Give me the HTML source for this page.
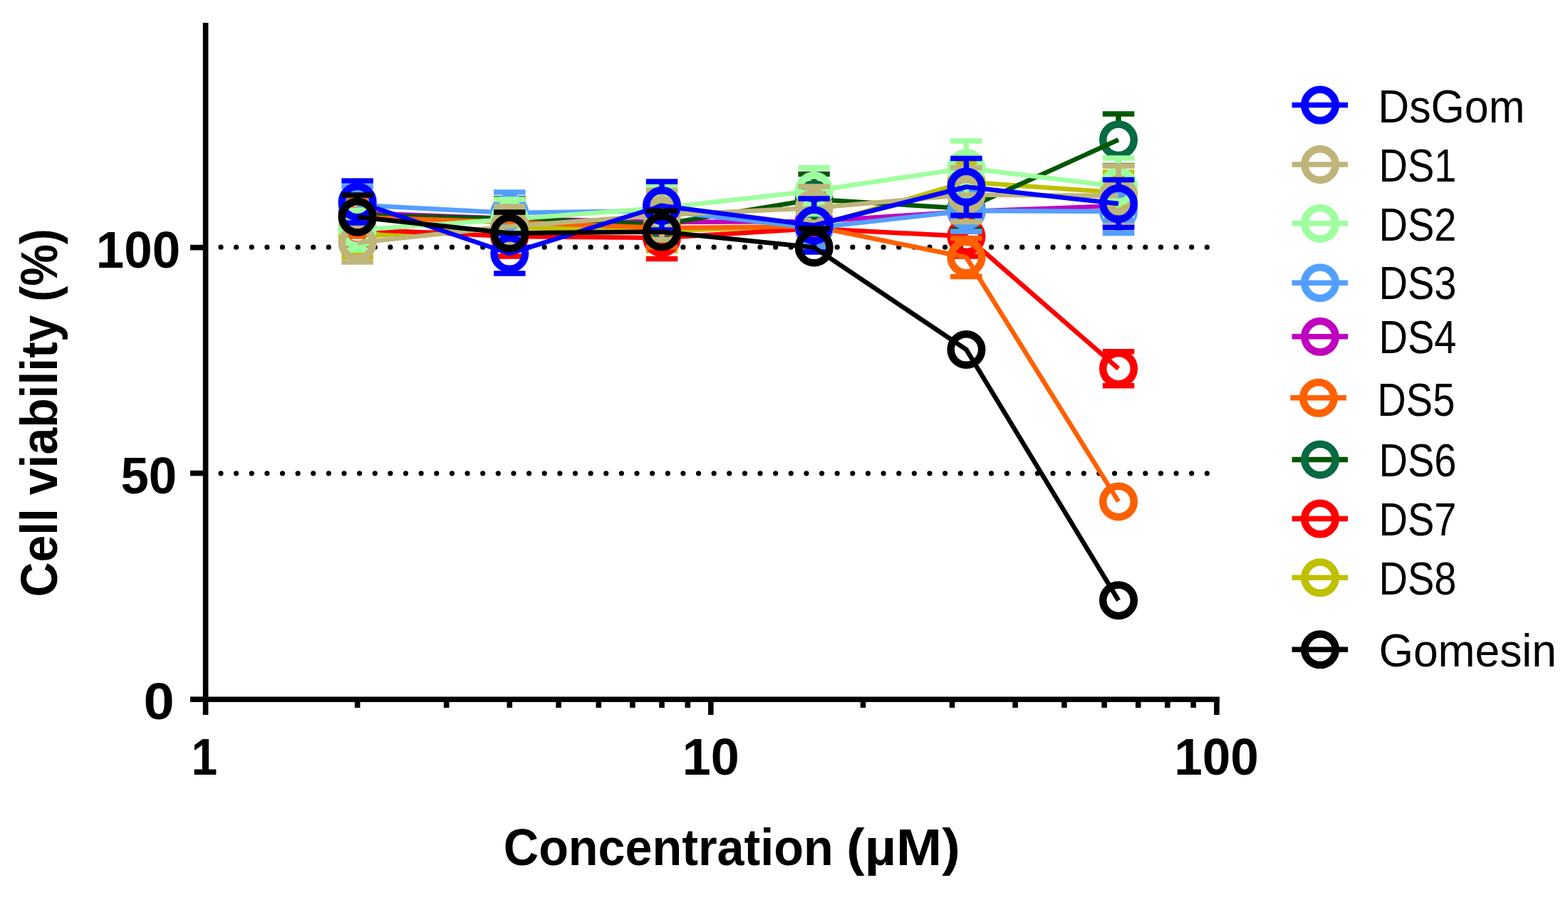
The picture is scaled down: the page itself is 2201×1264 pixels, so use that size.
<!DOCTYPE html>
<html><head><meta charset="utf-8"><title>Cell viability</title>
<style>html,body{margin:0;padding:0;background:#fff;}body{width:2201px;height:1264px;overflow:hidden;}svg{display:block;}.b{font-family:"Liberation Sans",sans-serif;font-weight:bold;}.r{font-family:"Liberation Sans",sans-serif;font-weight:normal;}</style></head><body>
<svg width="2201" height="1264" viewBox="0 0 2201 1264">
<rect x="0" y="0" width="2201" height="1264" fill="#fff"/>
<path d="M310.00 347.20h0M331.63 347.20h0M353.26 347.20h0M374.89 347.20h0M396.52 347.20h0M418.15 347.20h0M439.78 347.20h0M461.41 347.20h0M483.04 347.20h0M504.67 347.20h0M526.30 347.20h0M547.93 347.20h0M569.56 347.20h0M591.19 347.20h0M612.82 347.20h0M634.45 347.20h0M656.08 347.20h0M677.71 347.20h0M699.34 347.20h0M720.97 347.20h0M742.60 347.20h0M764.23 347.20h0M785.86 347.20h0M807.49 347.20h0M829.12 347.20h0M850.75 347.20h0M872.38 347.20h0M894.01 347.20h0M915.64 347.20h0M937.27 347.20h0M958.90 347.20h0M980.53 347.20h0M1002.16 347.20h0M1023.79 347.20h0M1045.42 347.20h0M1067.05 347.20h0M1088.68 347.20h0M1110.31 347.20h0M1131.94 347.20h0M1153.57 347.20h0M1175.20 347.20h0M1196.83 347.20h0M1218.46 347.20h0M1240.09 347.20h0M1261.72 347.20h0M1283.35 347.20h0M1304.98 347.20h0M1326.61 347.20h0M1348.24 347.20h0M1369.87 347.20h0M1391.50 347.20h0M1413.13 347.20h0M1434.76 347.20h0M1456.39 347.20h0M1478.02 347.20h0M1499.65 347.20h0M1521.28 347.20h0M1542.91 347.20h0M1564.54 347.20h0M1586.17 347.20h0M1607.80 347.20h0M1629.43 347.20h0M1651.06 347.20h0M1672.69 347.20h0M1694.32 347.20h0" stroke="#000" stroke-width="7.2" stroke-linecap="round" fill="none"/>
<path d="M310.00 664.80h0M331.63 664.80h0M353.26 664.80h0M374.89 664.80h0M396.52 664.80h0M418.15 664.80h0M439.78 664.80h0M461.41 664.80h0M483.04 664.80h0M504.67 664.80h0M526.30 664.80h0M547.93 664.80h0M569.56 664.80h0M591.19 664.80h0M612.82 664.80h0M634.45 664.80h0M656.08 664.80h0M677.71 664.80h0M699.34 664.80h0M720.97 664.80h0M742.60 664.80h0M764.23 664.80h0M785.86 664.80h0M807.49 664.80h0M829.12 664.80h0M850.75 664.80h0M872.38 664.80h0M894.01 664.80h0M915.64 664.80h0M937.27 664.80h0M958.90 664.80h0M980.53 664.80h0M1002.16 664.80h0M1023.79 664.80h0M1045.42 664.80h0M1067.05 664.80h0M1088.68 664.80h0M1110.31 664.80h0M1131.94 664.80h0M1153.57 664.80h0M1175.20 664.80h0M1196.83 664.80h0M1218.46 664.80h0M1240.09 664.80h0M1261.72 664.80h0M1283.35 664.80h0M1304.98 664.80h0M1326.61 664.80h0M1348.24 664.80h0M1369.87 664.80h0M1391.50 664.80h0M1413.13 664.80h0M1434.76 664.80h0M1456.39 664.80h0M1478.02 664.80h0M1499.65 664.80h0M1521.28 664.80h0M1542.91 664.80h0M1564.54 664.80h0M1586.17 664.80h0M1607.80 664.80h0M1629.43 664.80h0M1651.06 664.80h0M1672.69 664.80h0M1694.32 664.80h0" stroke="#000" stroke-width="7.2" stroke-linecap="round" fill="none"/>
<g stroke="#000" stroke-width="7.6" fill="none" stroke-linecap="butt">
<path d="M288.6 32V1004"/>
<path d="M284.8 982.2H1711.8"/>
<path d="M267 347.6H288"/>
<path d="M267 664.6H288"/>
<path d="M267 982.2H288"/>
<path d="M997.8 982V1004"/>
<path d="M1707.9 982V1004"/>
<path d="M501.7 982V994"/>
<path d="M626.7 982V994"/>
<path d="M715.3 982V994"/>
<path d="M784.1 982V994"/>
<path d="M840.3 982V994"/>
<path d="M887.9 982V994"/>
<path d="M929.0 982V994"/>
<path d="M965.3 982V994"/>
<path d="M1211.5 982V994"/>
<path d="M1336.5 982V994"/>
<path d="M1425.1 982V994"/>
<path d="M1493.9 982V994"/>
<path d="M1550.1 982V994"/>
<path d="M1597.7 982V994"/>
<path d="M1638.8 982V994"/>
<path d="M1675.1 982V994"/>
</g>
<g><path d="M479.4 273.0H523.9" stroke="#BF00BF" stroke-width="7.5" fill="none"/><path d="M479.4 325.0H523.9" stroke="#BF00BF" stroke-width="7.5" fill="none"/><path d="M715.3 281.0V279.0" stroke="#BF00BF" stroke-width="7.5" fill="none"/><path d="M693.1 279.0H737.6" stroke="#BF00BF" stroke-width="7.5" fill="none"/><path d="M715.3 333.0V335.0" stroke="#BF00BF" stroke-width="7.5" fill="none"/><path d="M693.1 335.0H737.6" stroke="#BF00BF" stroke-width="7.5" fill="none"/><path d="M929.0 286.0V284.0" stroke="#BF00BF" stroke-width="7.5" fill="none"/><path d="M906.8 284.0H951.3" stroke="#BF00BF" stroke-width="7.5" fill="none"/><path d="M929.0 338.0V340.0" stroke="#BF00BF" stroke-width="7.5" fill="none"/><path d="M906.8 340.0H951.3" stroke="#BF00BF" stroke-width="7.5" fill="none"/><path d="M1142.7 285.0V283.0" stroke="#BF00BF" stroke-width="7.5" fill="none"/><path d="M1120.4 283.0H1164.9" stroke="#BF00BF" stroke-width="7.5" fill="none"/><path d="M1142.7 337.0V339.0" stroke="#BF00BF" stroke-width="7.5" fill="none"/><path d="M1120.4 339.0H1164.9" stroke="#BF00BF" stroke-width="7.5" fill="none"/><path d="M1356.4 271.0V269.0" stroke="#BF00BF" stroke-width="7.5" fill="none"/><path d="M1334.1 269.0H1378.6" stroke="#BF00BF" stroke-width="7.5" fill="none"/><path d="M1356.4 323.0V325.0" stroke="#BF00BF" stroke-width="7.5" fill="none"/><path d="M1334.1 325.0H1378.6" stroke="#BF00BF" stroke-width="7.5" fill="none"/><path d="M1570.0 263.0V261.0" stroke="#BF00BF" stroke-width="7.5" fill="none"/><path d="M1547.8 261.0H1592.3" stroke="#BF00BF" stroke-width="7.5" fill="none"/><path d="M1570.0 315.0V317.0" stroke="#BF00BF" stroke-width="7.5" fill="none"/><path d="M1547.8 317.0H1592.3" stroke="#BF00BF" stroke-width="7.5" fill="none"/><circle cx="501.7" cy="299.0" r="21.75" stroke="#BF00BF" stroke-width="10.5" fill="none"/><circle cx="715.3" cy="307.0" r="21.75" stroke="#BF00BF" stroke-width="10.5" fill="none"/><circle cx="929.0" cy="312.0" r="21.75" stroke="#BF00BF" stroke-width="10.5" fill="none"/><circle cx="1142.7" cy="311.0" r="21.75" stroke="#BF00BF" stroke-width="10.5" fill="none"/><circle cx="1356.4" cy="297.0" r="21.75" stroke="#BF00BF" stroke-width="10.5" fill="none"/><circle cx="1570.0" cy="289.0" r="21.75" stroke="#BF00BF" stroke-width="10.5" fill="none"/><polyline points="501.7,299.0 715.3,307.0 929.0,312.0 1142.7,311.0 1356.4,297.0 1570.0,289.0" stroke="#BF00BF" stroke-width="6.5" fill="none" stroke-linejoin="round"/></g>
<g><path d="M501.7 306.0V303.5" stroke="#C0C000" stroke-width="7.5" fill="none"/><path d="M479.4 303.5H523.9" stroke="#C0C000" stroke-width="7.5" fill="none"/><path d="M501.7 358.0V360.5" stroke="#C0C000" stroke-width="7.5" fill="none"/><path d="M479.4 360.5H523.9" stroke="#C0C000" stroke-width="7.5" fill="none"/><path d="M715.3 293.5V291.5" stroke="#C0C000" stroke-width="7.5" fill="none"/><path d="M693.1 291.5H737.6" stroke="#C0C000" stroke-width="7.5" fill="none"/><path d="M715.3 345.5V347.5" stroke="#C0C000" stroke-width="7.5" fill="none"/><path d="M693.1 347.5H737.6" stroke="#C0C000" stroke-width="7.5" fill="none"/><path d="M929.0 298.0V296.0" stroke="#C0C000" stroke-width="7.5" fill="none"/><path d="M906.8 296.0H951.3" stroke="#C0C000" stroke-width="7.5" fill="none"/><path d="M929.0 350.0V352.0" stroke="#C0C000" stroke-width="7.5" fill="none"/><path d="M906.8 352.0H951.3" stroke="#C0C000" stroke-width="7.5" fill="none"/><path d="M1142.7 292.0V290.0" stroke="#C0C000" stroke-width="7.5" fill="none"/><path d="M1120.4 290.0H1164.9" stroke="#C0C000" stroke-width="7.5" fill="none"/><path d="M1142.7 344.0V346.0" stroke="#C0C000" stroke-width="7.5" fill="none"/><path d="M1120.4 346.0H1164.9" stroke="#C0C000" stroke-width="7.5" fill="none"/><path d="M1356.4 229.5V227.5" stroke="#C0C000" stroke-width="7.5" fill="none"/><path d="M1334.1 227.5H1378.6" stroke="#C0C000" stroke-width="7.5" fill="none"/><path d="M1356.4 281.5V283.5" stroke="#C0C000" stroke-width="7.5" fill="none"/><path d="M1334.1 283.5H1378.6" stroke="#C0C000" stroke-width="7.5" fill="none"/><path d="M1570.0 244.5V242.1" stroke="#C0C000" stroke-width="7.5" fill="none"/><path d="M1547.8 242.1H1592.3" stroke="#C0C000" stroke-width="7.5" fill="none"/><path d="M1570.0 296.5V298.9" stroke="#C0C000" stroke-width="7.5" fill="none"/><path d="M1547.8 298.9H1592.3" stroke="#C0C000" stroke-width="7.5" fill="none"/><circle cx="501.7" cy="332.0" r="21.75" stroke="#C0C000" stroke-width="10.5" fill="none"/><circle cx="715.3" cy="319.5" r="21.75" stroke="#C0C000" stroke-width="10.5" fill="none"/><circle cx="929.0" cy="324.0" r="21.75" stroke="#C0C000" stroke-width="10.5" fill="none"/><circle cx="1142.7" cy="318.0" r="21.75" stroke="#C0C000" stroke-width="10.5" fill="none"/><circle cx="1356.4" cy="255.5" r="21.75" stroke="#C0C000" stroke-width="10.5" fill="none"/><circle cx="1570.0" cy="270.5" r="21.75" stroke="#C0C000" stroke-width="10.5" fill="none"/><polyline points="501.7,332.0 715.3,319.5 929.0,324.0 1142.7,318.0 1356.4,255.5 1570.0,270.5" stroke="#C0C000" stroke-width="6.5" fill="none" stroke-linejoin="round"/></g>
<g><path d="M501.7 296.0V294.0" stroke="#FF0000" stroke-width="7.5" fill="none"/><path d="M479.4 294.0H523.9" stroke="#FF0000" stroke-width="7.5" fill="none"/><path d="M501.7 348.0V350.0" stroke="#FF0000" stroke-width="7.5" fill="none"/><path d="M479.4 350.0H523.9" stroke="#FF0000" stroke-width="7.5" fill="none"/><path d="M715.3 306.0V304.0" stroke="#FF0000" stroke-width="7.5" fill="none"/><path d="M693.1 304.0H737.6" stroke="#FF0000" stroke-width="7.5" fill="none"/><path d="M715.3 358.0V360.0" stroke="#FF0000" stroke-width="7.5" fill="none"/><path d="M693.1 360.0H737.6" stroke="#FF0000" stroke-width="7.5" fill="none"/><path d="M929.0 308.0V304.6" stroke="#FF0000" stroke-width="7.5" fill="none"/><path d="M906.8 304.6H951.3" stroke="#FF0000" stroke-width="7.5" fill="none"/><path d="M929.0 360.0V363.4" stroke="#FF0000" stroke-width="7.5" fill="none"/><path d="M906.8 363.4H951.3" stroke="#FF0000" stroke-width="7.5" fill="none"/><path d="M1142.7 295.0V293.0" stroke="#FF0000" stroke-width="7.5" fill="none"/><path d="M1120.4 293.0H1164.9" stroke="#FF0000" stroke-width="7.5" fill="none"/><path d="M1142.7 347.0V349.0" stroke="#FF0000" stroke-width="7.5" fill="none"/><path d="M1120.4 349.0H1164.9" stroke="#FF0000" stroke-width="7.5" fill="none"/><path d="M1356.4 306.0V304.0" stroke="#FF0000" stroke-width="7.5" fill="none"/><path d="M1334.1 304.0H1378.6" stroke="#FF0000" stroke-width="7.5" fill="none"/><path d="M1356.4 358.0V360.0" stroke="#FF0000" stroke-width="7.5" fill="none"/><path d="M1334.1 360.0H1378.6" stroke="#FF0000" stroke-width="7.5" fill="none"/><path d="M1547.8 493.7H1592.3" stroke="#FF0000" stroke-width="7.5" fill="none"/><path d="M1547.8 541.7H1592.3" stroke="#FF0000" stroke-width="7.5" fill="none"/><circle cx="501.7" cy="322.0" r="21.75" stroke="#FF0000" stroke-width="10.5" fill="none"/><circle cx="715.3" cy="332.0" r="21.75" stroke="#FF0000" stroke-width="10.5" fill="none"/><circle cx="929.0" cy="334.0" r="21.75" stroke="#FF0000" stroke-width="10.5" fill="none"/><circle cx="1142.7" cy="321.0" r="21.75" stroke="#FF0000" stroke-width="10.5" fill="none"/><circle cx="1356.4" cy="332.0" r="21.75" stroke="#FF0000" stroke-width="10.5" fill="none"/><circle cx="1570.0" cy="517.7" r="21.75" stroke="#FF0000" stroke-width="10.5" fill="none"/><polyline points="501.7,322.0 715.3,332.0 929.0,334.0 1142.7,321.0 1356.4,332.0 1570.0,517.7" stroke="#FF0000" stroke-width="6.5" fill="none" stroke-linejoin="round"/></g>
<g><path d="M501.7 276.0V274.0" stroke="#005700" stroke-width="7.5" fill="none"/><path d="M479.4 274.0H523.9" stroke="#005700" stroke-width="7.5" fill="none"/><path d="M501.7 328.0V330.0" stroke="#005700" stroke-width="7.5" fill="none"/><path d="M479.4 330.0H523.9" stroke="#005700" stroke-width="7.5" fill="none"/><path d="M715.3 281.0V279.0" stroke="#005700" stroke-width="7.5" fill="none"/><path d="M693.1 279.0H737.6" stroke="#005700" stroke-width="7.5" fill="none"/><path d="M715.3 333.0V335.0" stroke="#005700" stroke-width="7.5" fill="none"/><path d="M693.1 335.0H737.6" stroke="#005700" stroke-width="7.5" fill="none"/><path d="M929.0 289.0V287.0" stroke="#005700" stroke-width="7.5" fill="none"/><path d="M906.8 287.0H951.3" stroke="#005700" stroke-width="7.5" fill="none"/><path d="M929.0 341.0V343.0" stroke="#005700" stroke-width="7.5" fill="none"/><path d="M906.8 343.0H951.3" stroke="#005700" stroke-width="7.5" fill="none"/><path d="M1142.7 254.0V244.5" stroke="#005700" stroke-width="7.5" fill="none"/><path d="M1120.4 244.5H1164.9" stroke="#005700" stroke-width="7.5" fill="none"/><path d="M1142.7 306.0V315.5" stroke="#005700" stroke-width="7.5" fill="none"/><path d="M1120.4 315.5H1164.9" stroke="#005700" stroke-width="7.5" fill="none"/><path d="M1356.4 267.0V263.0" stroke="#005700" stroke-width="7.5" fill="none"/><path d="M1334.1 263.0H1378.6" stroke="#005700" stroke-width="7.5" fill="none"/><path d="M1356.4 319.0V323.0" stroke="#005700" stroke-width="7.5" fill="none"/><path d="M1334.1 323.0H1378.6" stroke="#005700" stroke-width="7.5" fill="none"/><path d="M1570.0 170.3V160.0" stroke="#005700" stroke-width="7.5" fill="none"/><path d="M1547.8 160.0H1592.3" stroke="#005700" stroke-width="7.5" fill="none"/><path d="M1570.0 222.3V232.6" stroke="#005700" stroke-width="7.5" fill="none"/><path d="M1547.8 232.6H1592.3" stroke="#005700" stroke-width="7.5" fill="none"/><circle cx="501.7" cy="302.0" r="21.75" stroke="#066A42" stroke-width="10.5" fill="none"/><circle cx="715.3" cy="307.0" r="21.75" stroke="#066A42" stroke-width="10.5" fill="none"/><circle cx="929.0" cy="315.0" r="21.75" stroke="#066A42" stroke-width="10.5" fill="none"/><circle cx="1142.7" cy="280.0" r="21.75" stroke="#066A42" stroke-width="10.5" fill="none"/><circle cx="1356.4" cy="293.0" r="21.75" stroke="#066A42" stroke-width="10.5" fill="none"/><circle cx="1570.0" cy="196.3" r="21.75" stroke="#066A42" stroke-width="10.5" fill="none"/><polyline points="501.7,302.0 715.3,307.0 929.0,315.0 1142.7,280.0 1356.4,293.0 1570.0,196.3" stroke="#005700" stroke-width="6.5" fill="none" stroke-linejoin="round"/></g>
<g><path d="M501.7 279.0V278.0" stroke="#FF6000" stroke-width="7.5" fill="none"/><path d="M479.4 278.0H523.9" stroke="#FF6000" stroke-width="7.5" fill="none"/><path d="M501.7 331.0V332.0" stroke="#FF6000" stroke-width="7.5" fill="none"/><path d="M479.4 332.0H523.9" stroke="#FF6000" stroke-width="7.5" fill="none"/><path d="M715.3 286.0V285.0" stroke="#FF6000" stroke-width="7.5" fill="none"/><path d="M693.1 285.0H737.6" stroke="#FF6000" stroke-width="7.5" fill="none"/><path d="M715.3 338.0V339.0" stroke="#FF6000" stroke-width="7.5" fill="none"/><path d="M693.1 339.0H737.6" stroke="#FF6000" stroke-width="7.5" fill="none"/><path d="M929.0 294.0V293.0" stroke="#FF6000" stroke-width="7.5" fill="none"/><path d="M906.8 293.0H951.3" stroke="#FF6000" stroke-width="7.5" fill="none"/><path d="M929.0 346.0V347.0" stroke="#FF6000" stroke-width="7.5" fill="none"/><path d="M906.8 347.0H951.3" stroke="#FF6000" stroke-width="7.5" fill="none"/><path d="M1142.7 292.0V291.0" stroke="#FF6000" stroke-width="7.5" fill="none"/><path d="M1120.4 291.0H1164.9" stroke="#FF6000" stroke-width="7.5" fill="none"/><path d="M1142.7 344.0V345.0" stroke="#FF6000" stroke-width="7.5" fill="none"/><path d="M1120.4 345.0H1164.9" stroke="#FF6000" stroke-width="7.5" fill="none"/><path d="M1356.4 335.5V334.5" stroke="#FF6000" stroke-width="7.5" fill="none"/><path d="M1334.1 334.5H1378.6" stroke="#FF6000" stroke-width="7.5" fill="none"/><path d="M1356.4 387.5V388.5" stroke="#FF6000" stroke-width="7.5" fill="none"/><path d="M1334.1 388.5H1378.6" stroke="#FF6000" stroke-width="7.5" fill="none"/><circle cx="501.7" cy="305.0" r="21.75" stroke="#FF6000" stroke-width="10.5" fill="none"/><circle cx="715.3" cy="312.0" r="21.75" stroke="#FF6000" stroke-width="10.5" fill="none"/><circle cx="929.0" cy="320.0" r="21.75" stroke="#FF6000" stroke-width="10.5" fill="none"/><circle cx="1142.7" cy="318.0" r="21.75" stroke="#FF6000" stroke-width="10.5" fill="none"/><circle cx="1356.4" cy="361.5" r="21.75" stroke="#FF6000" stroke-width="10.5" fill="none"/><circle cx="1570.0" cy="704.4" r="21.75" stroke="#FF6000" stroke-width="10.5" fill="none"/><polyline points="501.7,305.0 715.3,312.0 929.0,320.0 1142.7,318.0 1356.4,361.5 1570.0,704.4" stroke="#FF6000" stroke-width="6.5" fill="none" stroke-linejoin="round"/></g>
<g><path d="M479.4 262.0H523.9" stroke="#539FFF" stroke-width="7.5" fill="none"/><path d="M479.4 314.0H523.9" stroke="#539FFF" stroke-width="7.5" fill="none"/><path d="M715.3 273.0V270.0" stroke="#539FFF" stroke-width="7.5" fill="none"/><path d="M693.1 270.0H737.6" stroke="#539FFF" stroke-width="7.5" fill="none"/><path d="M715.3 325.0V328.0" stroke="#539FFF" stroke-width="7.5" fill="none"/><path d="M693.1 328.0H737.6" stroke="#539FFF" stroke-width="7.5" fill="none"/><path d="M929.0 270.0V268.0" stroke="#539FFF" stroke-width="7.5" fill="none"/><path d="M906.8 268.0H951.3" stroke="#539FFF" stroke-width="7.5" fill="none"/><path d="M929.0 322.0V324.0" stroke="#539FFF" stroke-width="7.5" fill="none"/><path d="M906.8 324.0H951.3" stroke="#539FFF" stroke-width="7.5" fill="none"/><path d="M1142.7 294.0V292.0" stroke="#539FFF" stroke-width="7.5" fill="none"/><path d="M1120.4 292.0H1164.9" stroke="#539FFF" stroke-width="7.5" fill="none"/><path d="M1142.7 346.0V348.0" stroke="#539FFF" stroke-width="7.5" fill="none"/><path d="M1120.4 348.0H1164.9" stroke="#539FFF" stroke-width="7.5" fill="none"/><path d="M1356.4 270.0V267.0" stroke="#539FFF" stroke-width="7.5" fill="none"/><path d="M1334.1 267.0H1378.6" stroke="#539FFF" stroke-width="7.5" fill="none"/><path d="M1356.4 322.0V325.0" stroke="#539FFF" stroke-width="7.5" fill="none"/><path d="M1334.1 325.0H1378.6" stroke="#539FFF" stroke-width="7.5" fill="none"/><path d="M1570.0 271.0V266.5" stroke="#539FFF" stroke-width="7.5" fill="none"/><path d="M1547.8 266.5H1592.3" stroke="#539FFF" stroke-width="7.5" fill="none"/><path d="M1570.0 323.0V327.5" stroke="#539FFF" stroke-width="7.5" fill="none"/><path d="M1547.8 327.5H1592.3" stroke="#539FFF" stroke-width="7.5" fill="none"/><circle cx="501.7" cy="288.0" r="21.75" stroke="#539FFF" stroke-width="10.5" fill="none"/><circle cx="715.3" cy="299.0" r="21.75" stroke="#539FFF" stroke-width="10.5" fill="none"/><circle cx="929.0" cy="296.0" r="21.75" stroke="#539FFF" stroke-width="10.5" fill="none"/><circle cx="1142.7" cy="320.0" r="21.75" stroke="#539FFF" stroke-width="10.5" fill="none"/><circle cx="1356.4" cy="296.0" r="21.75" stroke="#539FFF" stroke-width="10.5" fill="none"/><circle cx="1570.0" cy="297.0" r="21.75" stroke="#539FFF" stroke-width="10.5" fill="none"/><polyline points="501.7,288.0 715.3,299.0 929.0,296.0 1142.7,320.0 1356.4,296.0 1570.0,297.0" stroke="#539FFF" stroke-width="6.5" fill="none" stroke-linejoin="round"/></g>
<g><path d="M501.7 297.0V295.0" stroke="#9EFF9E" stroke-width="7.5" fill="none"/><path d="M479.4 295.0H523.9" stroke="#9EFF9E" stroke-width="7.5" fill="none"/><path d="M501.7 349.0V351.0" stroke="#9EFF9E" stroke-width="7.5" fill="none"/><path d="M479.4 351.0H523.9" stroke="#9EFF9E" stroke-width="7.5" fill="none"/><path d="M715.3 282.0V280.0" stroke="#9EFF9E" stroke-width="7.5" fill="none"/><path d="M693.1 280.0H737.6" stroke="#9EFF9E" stroke-width="7.5" fill="none"/><path d="M715.3 334.0V336.0" stroke="#9EFF9E" stroke-width="7.5" fill="none"/><path d="M693.1 336.0H737.6" stroke="#9EFF9E" stroke-width="7.5" fill="none"/><path d="M929.0 266.0V260.7" stroke="#9EFF9E" stroke-width="7.5" fill="none"/><path d="M906.8 260.7H951.3" stroke="#9EFF9E" stroke-width="7.5" fill="none"/><path d="M929.0 318.0V323.3" stroke="#9EFF9E" stroke-width="7.5" fill="none"/><path d="M906.8 323.3H951.3" stroke="#9EFF9E" stroke-width="7.5" fill="none"/><path d="M1142.7 242.0V235.5" stroke="#9EFF9E" stroke-width="7.5" fill="none"/><path d="M1120.4 235.5H1164.9" stroke="#9EFF9E" stroke-width="7.5" fill="none"/><path d="M1142.7 294.0V300.5" stroke="#9EFF9E" stroke-width="7.5" fill="none"/><path d="M1120.4 300.5H1164.9" stroke="#9EFF9E" stroke-width="7.5" fill="none"/><path d="M1356.4 210.0V198.0" stroke="#9EFF9E" stroke-width="7.5" fill="none"/><path d="M1334.1 198.0H1378.6" stroke="#9EFF9E" stroke-width="7.5" fill="none"/><path d="M1356.4 262.0V274.0" stroke="#9EFF9E" stroke-width="7.5" fill="none"/><path d="M1334.1 274.0H1378.6" stroke="#9EFF9E" stroke-width="7.5" fill="none"/><path d="M1570.0 236.0V222.0" stroke="#9EFF9E" stroke-width="7.5" fill="none"/><path d="M1547.8 222.0H1592.3" stroke="#9EFF9E" stroke-width="7.5" fill="none"/><path d="M1570.0 288.0V302.0" stroke="#9EFF9E" stroke-width="7.5" fill="none"/><path d="M1547.8 302.0H1592.3" stroke="#9EFF9E" stroke-width="7.5" fill="none"/><circle cx="501.7" cy="323.0" r="21.75" stroke="#9EFF9E" stroke-width="10.5" fill="none"/><circle cx="715.3" cy="308.0" r="21.75" stroke="#9EFF9E" stroke-width="10.5" fill="none"/><circle cx="929.0" cy="292.0" r="21.75" stroke="#9EFF9E" stroke-width="10.5" fill="none"/><circle cx="1142.7" cy="268.0" r="21.75" stroke="#9EFF9E" stroke-width="10.5" fill="none"/><circle cx="1356.4" cy="236.0" r="21.75" stroke="#9EFF9E" stroke-width="10.5" fill="none"/><circle cx="1570.0" cy="262.0" r="21.75" stroke="#9EFF9E" stroke-width="10.5" fill="none"/><polyline points="501.7,323.0 715.3,308.0 929.0,292.0 1142.7,268.0 1356.4,236.0 1570.0,262.0" stroke="#9EFF9E" stroke-width="6.5" fill="none" stroke-linejoin="round"/></g>
<g><path d="M501.7 315.0V314.0" stroke="#BFB57A" stroke-width="7.5" fill="none"/><path d="M479.4 314.0H523.9" stroke="#BFB57A" stroke-width="7.5" fill="none"/><path d="M501.7 367.0V368.0" stroke="#BFB57A" stroke-width="7.5" fill="none"/><path d="M479.4 368.0H523.9" stroke="#BFB57A" stroke-width="7.5" fill="none"/><path d="M715.3 292.0V290.0" stroke="#BFB57A" stroke-width="7.5" fill="none"/><path d="M693.1 290.0H737.6" stroke="#BFB57A" stroke-width="7.5" fill="none"/><path d="M715.3 344.0V346.0" stroke="#BFB57A" stroke-width="7.5" fill="none"/><path d="M693.1 346.0H737.6" stroke="#BFB57A" stroke-width="7.5" fill="none"/><path d="M929.0 276.0V267.5" stroke="#BFB57A" stroke-width="7.5" fill="none"/><path d="M906.8 267.5H951.3" stroke="#BFB57A" stroke-width="7.5" fill="none"/><path d="M929.0 328.0V336.5" stroke="#BFB57A" stroke-width="7.5" fill="none"/><path d="M906.8 336.5H951.3" stroke="#BFB57A" stroke-width="7.5" fill="none"/><path d="M1142.7 266.0V262.0" stroke="#BFB57A" stroke-width="7.5" fill="none"/><path d="M1120.4 262.0H1164.9" stroke="#BFB57A" stroke-width="7.5" fill="none"/><path d="M1142.7 318.0V322.0" stroke="#BFB57A" stroke-width="7.5" fill="none"/><path d="M1120.4 322.0H1164.9" stroke="#BFB57A" stroke-width="7.5" fill="none"/><path d="M1356.4 247.5V235.5" stroke="#BFB57A" stroke-width="7.5" fill="none"/><path d="M1334.1 235.5H1378.6" stroke="#BFB57A" stroke-width="7.5" fill="none"/><path d="M1356.4 299.5V311.5" stroke="#BFB57A" stroke-width="7.5" fill="none"/><path d="M1334.1 311.5H1378.6" stroke="#BFB57A" stroke-width="7.5" fill="none"/><path d="M1570.0 249.0V233.0" stroke="#BFB57A" stroke-width="7.5" fill="none"/><path d="M1547.8 233.0H1592.3" stroke="#BFB57A" stroke-width="7.5" fill="none"/><path d="M1570.0 301.0V317.0" stroke="#BFB57A" stroke-width="7.5" fill="none"/><path d="M1547.8 317.0H1592.3" stroke="#BFB57A" stroke-width="7.5" fill="none"/><circle cx="501.7" cy="341.0" r="21.75" stroke="#BFB57A" stroke-width="10.5" fill="none"/><circle cx="715.3" cy="318.0" r="21.75" stroke="#BFB57A" stroke-width="10.5" fill="none"/><circle cx="929.0" cy="302.0" r="21.75" stroke="#BFB57A" stroke-width="10.5" fill="none"/><circle cx="1142.7" cy="292.0" r="21.75" stroke="#BFB57A" stroke-width="10.5" fill="none"/><circle cx="1356.4" cy="273.5" r="21.75" stroke="#BFB57A" stroke-width="10.5" fill="none"/><circle cx="1570.0" cy="275.0" r="21.75" stroke="#BFB57A" stroke-width="10.5" fill="none"/><polyline points="501.7,341.0 715.3,318.0 929.0,302.0 1142.7,292.0 1356.4,273.5 1570.0,275.0" stroke="#BFB57A" stroke-width="6.5" fill="none" stroke-linejoin="round"/></g>
<g><path d="M501.7 257.5V254.0" stroke="#0000FF" stroke-width="7.5" fill="none"/><path d="M479.4 254.0H523.9" stroke="#0000FF" stroke-width="7.5" fill="none"/><path d="M501.7 309.5V313.0" stroke="#0000FF" stroke-width="7.5" fill="none"/><path d="M479.4 313.0H523.9" stroke="#0000FF" stroke-width="7.5" fill="none"/><path d="M715.3 330.0V328.0" stroke="#0000FF" stroke-width="7.5" fill="none"/><path d="M693.1 328.0H737.6" stroke="#0000FF" stroke-width="7.5" fill="none"/><path d="M715.3 382.0V384.0" stroke="#0000FF" stroke-width="7.5" fill="none"/><path d="M693.1 384.0H737.6" stroke="#0000FF" stroke-width="7.5" fill="none"/><path d="M929.0 263.0V255.0" stroke="#0000FF" stroke-width="7.5" fill="none"/><path d="M906.8 255.0H951.3" stroke="#0000FF" stroke-width="7.5" fill="none"/><path d="M929.0 315.0V323.0" stroke="#0000FF" stroke-width="7.5" fill="none"/><path d="M906.8 323.0H951.3" stroke="#0000FF" stroke-width="7.5" fill="none"/><path d="M1142.7 290.5V279.0" stroke="#0000FF" stroke-width="7.5" fill="none"/><path d="M1120.4 279.0H1164.9" stroke="#0000FF" stroke-width="7.5" fill="none"/><path d="M1142.7 342.5V354.0" stroke="#0000FF" stroke-width="7.5" fill="none"/><path d="M1120.4 354.0H1164.9" stroke="#0000FF" stroke-width="7.5" fill="none"/><path d="M1356.4 236.5V222.5" stroke="#0000FF" stroke-width="7.5" fill="none"/><path d="M1334.1 222.5H1378.6" stroke="#0000FF" stroke-width="7.5" fill="none"/><path d="M1356.4 288.5V302.5" stroke="#0000FF" stroke-width="7.5" fill="none"/><path d="M1334.1 302.5H1378.6" stroke="#0000FF" stroke-width="7.5" fill="none"/><path d="M1570.0 260.0V252.5" stroke="#0000FF" stroke-width="7.5" fill="none"/><path d="M1547.8 252.5H1592.3" stroke="#0000FF" stroke-width="7.5" fill="none"/><path d="M1570.0 312.0V319.5" stroke="#0000FF" stroke-width="7.5" fill="none"/><path d="M1547.8 319.5H1592.3" stroke="#0000FF" stroke-width="7.5" fill="none"/><circle cx="501.7" cy="283.5" r="21.75" stroke="#0000FF" stroke-width="10.5" fill="none"/><circle cx="715.3" cy="356.0" r="21.75" stroke="#0000FF" stroke-width="10.5" fill="none"/><circle cx="929.0" cy="289.0" r="21.75" stroke="#0000FF" stroke-width="10.5" fill="none"/><circle cx="1142.7" cy="316.5" r="21.75" stroke="#0000FF" stroke-width="10.5" fill="none"/><circle cx="1356.4" cy="262.5" r="21.75" stroke="#0000FF" stroke-width="10.5" fill="none"/><circle cx="1570.0" cy="286.0" r="21.75" stroke="#0000FF" stroke-width="10.5" fill="none"/><polyline points="501.7,283.5 715.3,356.0 929.0,289.0 1142.7,316.5 1356.4,262.5 1570.0,286.0" stroke="#0000FF" stroke-width="6.5" fill="none" stroke-linejoin="round"/></g>
<g><path d="M501.7 278.7V274.0" stroke="#000000" stroke-width="7.5" fill="none"/><path d="M479.4 274.0H523.9" stroke="#000000" stroke-width="7.5" fill="none"/><path d="M715.3 301.5V298.0" stroke="#000000" stroke-width="7.5" fill="none"/><path d="M693.1 298.0H737.6" stroke="#000000" stroke-width="7.5" fill="none"/><path d="M929.0 299.5V296.3" stroke="#000000" stroke-width="7.5" fill="none"/><path d="M906.8 296.3H951.3" stroke="#000000" stroke-width="7.5" fill="none"/><path d="M1142.7 321.5V321.0" stroke="#000000" stroke-width="7.5" fill="none"/><path d="M1120.4 321.0H1164.9" stroke="#000000" stroke-width="7.5" fill="none"/><circle cx="501.7" cy="304.7" r="21.75" stroke="#000000" stroke-width="10.5" fill="none"/><circle cx="715.3" cy="327.5" r="21.75" stroke="#000000" stroke-width="10.5" fill="none"/><circle cx="929.0" cy="325.5" r="21.75" stroke="#000000" stroke-width="10.5" fill="none"/><circle cx="1142.7" cy="347.5" r="21.75" stroke="#000000" stroke-width="10.5" fill="none"/><circle cx="1356.4" cy="491.0" r="21.75" stroke="#000000" stroke-width="10.5" fill="none"/><circle cx="1570.0" cy="843.2" r="21.75" stroke="#000000" stroke-width="10.5" fill="none"/><polyline points="501.7,304.7 715.3,327.5 929.0,325.5 1142.7,347.5 1356.4,491.0 1570.0,843.2" stroke="#000000" stroke-width="6.5" fill="none" stroke-linejoin="round"/></g>
<text class="b" x="134.8" y="375.5" font-size="72.5" text-anchor="start" textLength="118.3" lengthAdjust="spacingAndGlyphs">100</text>
<text class="b" x="169.4" y="693.4" font-size="72.5" text-anchor="start" textLength="78.8" lengthAdjust="spacingAndGlyphs">50</text>
<text class="b" x="201.6" y="1010.0" font-size="72.5" text-anchor="start" textLength="43.2" lengthAdjust="spacingAndGlyphs">0</text>
<text class="b" x="268.4" y="1087.5" font-size="72.5" text-anchor="start" textLength="36.7" lengthAdjust="spacingAndGlyphs">1</text>
<text class="b" x="957.7" y="1087.8" font-size="72.5" text-anchor="start" textLength="80.0" lengthAdjust="spacingAndGlyphs">10</text>
<text class="b" x="1648.3" y="1087.8" font-size="72.5" text-anchor="start" textLength="118.6" lengthAdjust="spacingAndGlyphs">100</text>
<text class="b" x="706.8" y="1214.6" font-size="72.0" text-anchor="start" textLength="463.0" lengthAdjust="spacingAndGlyphs">Concentration</text>
<text class="b" x="1188.0" y="1214.6" font-size="72.0" text-anchor="start" textLength="160.0" lengthAdjust="spacingAndGlyphs">(µM)</text>
<text class="b" transform="translate(80,838.5) rotate(-90)" x="0" y="0" font-size="72" textLength="396" lengthAdjust="spacingAndGlyphs">Cell viability</text>
<text class="b" transform="translate(80,423.8) rotate(-90)" x="0" y="0" font-size="72" textLength="102.6" lengthAdjust="spacingAndGlyphs">(%)</text>
<path d="M1813.5 147.6H1892.0" stroke="#0000FF" stroke-width="7.5" fill="none"/>
<circle cx="1853.0" cy="147.6" r="21.75" stroke="#0000FF" stroke-width="10.5" fill="none"/>
<text class="r" x="1934.3" y="172.3" font-size="64.5" text-anchor="start" textLength="206.0" lengthAdjust="spacingAndGlyphs">DsGom</text>
<path d="M1813.5 231.0H1892.0" stroke="#BFB57A" stroke-width="7.5" fill="none"/>
<circle cx="1853.0" cy="231.0" r="21.75" stroke="#BFB57A" stroke-width="10.5" fill="none"/>
<text class="r" x="1935.5" y="255.4" font-size="64.5" text-anchor="start" textLength="109.0" lengthAdjust="spacingAndGlyphs">DS1</text>
<path d="M1813.5 313.8H1892.0" stroke="#9EFF9E" stroke-width="7.5" fill="none"/>
<circle cx="1853.0" cy="313.8" r="21.75" stroke="#9EFF9E" stroke-width="10.5" fill="none"/>
<text class="r" x="1935.5" y="337.5" font-size="64.5" text-anchor="start" textLength="109.0" lengthAdjust="spacingAndGlyphs">DS2</text>
<path d="M1813.5 397.2H1892.0" stroke="#539FFF" stroke-width="7.5" fill="none"/>
<circle cx="1853.0" cy="397.2" r="21.75" stroke="#539FFF" stroke-width="10.5" fill="none"/>
<text class="r" x="1935.5" y="420.3" font-size="64.5" text-anchor="start" textLength="109.0" lengthAdjust="spacingAndGlyphs">DS3</text>
<path d="M1813.5 472.8H1892.0" stroke="#BF00BF" stroke-width="7.5" fill="none"/>
<circle cx="1853.0" cy="472.8" r="21.75" stroke="#BF00BF" stroke-width="10.5" fill="none"/>
<text class="r" x="1935.5" y="495.5" font-size="64.5" text-anchor="start" textLength="109.0" lengthAdjust="spacingAndGlyphs">DS4</text>
<path d="M1811.3 558.8H1889.8" stroke="#FF6000" stroke-width="7.5" fill="none"/>
<circle cx="1850.8" cy="558.8" r="21.75" stroke="#FF6000" stroke-width="10.5" fill="none"/>
<text class="r" x="1933.3" y="583.5" font-size="64.5" text-anchor="start" textLength="109.0" lengthAdjust="spacingAndGlyphs">DS5</text>
<path d="M1813.5 645.5H1892.0" stroke="#005700" stroke-width="7.5" fill="none"/>
<circle cx="1853.0" cy="645.5" r="21.75" stroke="#066A42" stroke-width="10.5" fill="none"/>
<text class="r" x="1935.5" y="669.2" font-size="64.5" text-anchor="start" textLength="109.0" lengthAdjust="spacingAndGlyphs">DS6</text>
<path d="M1813.5 728.6H1892.0" stroke="#FF0000" stroke-width="7.5" fill="none"/>
<circle cx="1853.0" cy="728.6" r="21.75" stroke="#FF0000" stroke-width="10.5" fill="none"/>
<text class="r" x="1935.5" y="752.3" font-size="64.5" text-anchor="start" textLength="109.0" lengthAdjust="spacingAndGlyphs">DS7</text>
<path d="M1813.5 811.3H1892.0" stroke="#C0C000" stroke-width="7.5" fill="none"/>
<circle cx="1853.0" cy="811.3" r="21.75" stroke="#C0C000" stroke-width="10.5" fill="none"/>
<text class="r" x="1935.5" y="835.4" font-size="64.5" text-anchor="start" textLength="109.0" lengthAdjust="spacingAndGlyphs">DS8</text>
<path d="M1813.5 912.3H1892.0" stroke="#000000" stroke-width="7.5" fill="none"/>
<circle cx="1853.0" cy="912.3" r="21.75" stroke="#000000" stroke-width="10.5" fill="none"/>
<text class="r" x="1935.4" y="935.6" font-size="64.5" text-anchor="start" textLength="249.5" lengthAdjust="spacingAndGlyphs">Gomesin</text>
</svg></body></html>
